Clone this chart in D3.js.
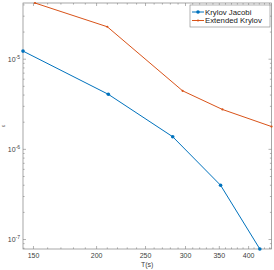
<!DOCTYPE html>
<html>
<head>
<meta charset="utf-8">
<script src="https://cdn.jsdelivr.net/npm/d3@7"></script>
<style>
  body { margin: 0; background: #fff; }
  svg { display: block; font-family: "Liberation Sans", Arial, sans-serif; }
</style>
</head>
<body>
<svg id="chart" width="274" height="270"></svg>
<script>
// values
const jacobiT = [143, 211, 283, 352, 421];
const jacobiErr = [1.23e-5, 4.08e-6, 1.38e-6, 4.0e-7, 7.85e-8];
const extendedT = [151, 210, 296, 355, 444];
const extendedErr = [4.2e-5, 2.29e-5, 4.46e-6, 2.77e-6, 1.79e-6];
const seriesNames = ['Krylov Jacobi', 'Extended Krylov'];
const xTickValues = [150, 200, 250, 300, 350, 400];
const yTickExps = [-7, -6, -5];

const colors = ['#0072BD', '#D95319'];
const axisColor = '#808080';
const textColor = '#404040';

const m = { left: 23, right: 2.5, top: 3, bottom: 21 };
const W = 274, H = 270;
const svg = d3.select('#chart');

const allT = jacobiT.concat(extendedT);
const allE = jacobiErr.concat(extendedErr);

const x = d3.scaleLog()
    .domain(d3.extent(allT))
    .range([m.left, W - m.right]);
const y = d3.scaleLog()
    .domain(d3.extent(allE))
    .range([H - m.bottom, m.top]);

const x0 = m.left, x1 = W - m.right, y0 = H - m.bottom, y1 = m.top;

// minor ticks
const xMinor = d3.range(150, 450, 10).filter(v => v >= x.domain()[0] && v <= x.domain()[1]);
const yMinor = [];
for (let e = -8; e <= -5; e++) {
    for (let k = 1; k <= 9; k++) {
        const v = k * Math.pow(10, e);
        if (v >= y.domain()[0] && v <= y.domain()[1]) yMinor.push(v);
    }
}

const ticks = svg.append('g').attr('stroke', axisColor).attr('stroke-width', 0.6);
xMinor.forEach(v => {
    const len = xTickValues.includes(v) ? 3 : 1.6;
    ticks.append('line').attr('x1', x(v)).attr('x2', x(v)).attr('y1', y0).attr('y2', y0 - len);
    ticks.append('line').attr('x1', x(v)).attr('x2', x(v)).attr('y1', y1).attr('y2', y1 + len);
});
yMinor.forEach(v => {
    const major = Math.abs(Math.log10(v) - Math.round(Math.log10(v))) < 1e-9;
    const len = major ? 3 : 1.6;
    ticks.append('line').attr('x1', x0).attr('x2', x0 + len).attr('y1', y(v)).attr('y2', y(v));
    ticks.append('line').attr('x1', x1).attr('x2', x1 - len).attr('y1', y(v)).attr('y2', y(v));
});

// box
svg.append('rect')
    .attr('x', x0).attr('y', y1)
    .attr('width', x1 - x0).attr('height', y0 - y1)
    .attr('fill', 'none').attr('stroke', axisColor).attr('stroke-width', 0.7);

// tick labels
svg.append('g').selectAll('text')
    .data(xTickValues)
    .join('text')
    .attr('x', d => x(d)).attr('y', y0 + 9)
    .attr('text-anchor', 'middle')
    .attr('font-size', 7).attr('fill', textColor)
    .text(d => d);

const yl = svg.append('g').selectAll('text')
    .data(yTickExps)
    .join('text')
    .attr('x', x0 - 3).attr('y', d => y(Math.pow(10, d)) + 2.5)
    .attr('text-anchor', 'end')
    .attr('font-size', 7).attr('fill', textColor);
yl.append('tspan').text('10');
yl.append('tspan').attr('dy', -3).attr('font-size', 5).text(d => '-' + Math.abs(d));

// axis labels
svg.append('text')
    .attr('x', (x0 + x1) / 2).attr('y', H - 3)
    .attr('text-anchor', 'middle')
    .attr('font-size', 7).attr('fill', textColor)
    .text('T(s)');
svg.append('text')
    .attr('transform', `translate(5,${(y0 + y1) / 2}) rotate(-90)`)
    .attr('text-anchor', 'middle')
    .attr('font-size', 5).attr('fill', textColor)
    .text('ε');

// series
const plot = svg.append('g');
const series = [
    { t: jacobiT, e: jacobiErr, r: 1.8 },
    { t: extendedT, e: extendedErr, r: 1.1 }
];
const line = d3.line().x(d => x(d[0])).y(d => y(d[1]));
series.forEach((s, i) => {
    const pts = s.t.map((t, j) => [t, s.e[j]]);
    plot.append('path').datum(pts)
        .attr('d', line)
        .attr('fill', 'none').attr('stroke', colors[i]).attr('stroke-width', 1);
    plot.selectAll(null).data(pts).join('circle')
        .attr('cx', d => x(d[0])).attr('cy', d => y(d[1]))
        .attr('r', s.r).attr('fill', colors[i]);
});

// legend
const lg = svg.append('g');
lg.append('rect')
    .attr('x', 190).attr('y', 5).attr('width', 80).attr('height', 22)
    .attr('fill', '#fff').attr('stroke', axisColor).attr('stroke-width', 0.6);
seriesNames.forEach((name, i) => {
    const ly = 12 + i * 8.5;
    lg.append('line').attr('x1', 192).attr('x2', 204).attr('y1', ly).attr('y2', ly)
        .attr('stroke', colors[i]).attr('stroke-width', 1);
    lg.append('circle').attr('cx', 198).attr('cy', ly).attr('r', series[i].r).attr('fill', colors[i]);
    lg.append('text').attr('x', 205).attr('y', ly + 2.7)
        .attr('font-size', 7.8).attr('fill', '#202020')
        .text(name);
});
</script>
</body>
</html>
